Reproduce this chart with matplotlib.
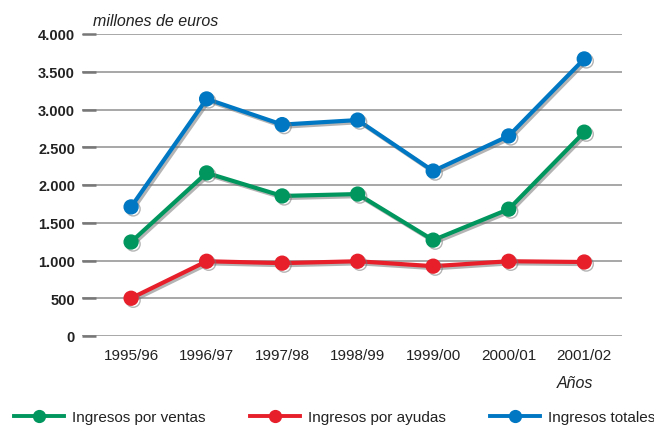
import matplotlib
matplotlib.use("Agg")
import matplotlib.pyplot as plt
import matplotlib.patheffects as pe
from matplotlib.lines import Line2D

plt.rcParams['font.family'] = ['Liberation Sans', 'DejaVu Sans']

years = ["1995/96", "1996/97", "1997/98", "1998/99", "1999/00", "2000/01", "2001/02"]
ventas = [1245, 2160, 1855, 1880, 1270, 1680, 2700]
ayudas = [500, 990, 965, 990, 925, 990, 980]
totales = [1710, 3140, 2800, 2860, 2185, 2650, 3670]
yticks = [0, 500, 1000, 1500, 2000, 2500, 3000, 3500, 4000]
ytick_labels = ["0", "500", "1.000", "1.500", "2.000", "2.500", "3.000", "3.500", "4.000"]

series = [
    ("Ingresos por ventas", ventas, "#00965e"),
    ("Ingresos por ayudas", ayudas, "#e61f2b"),
    ("Ingresos totales", totales, "#0077c2"),
]

fig = plt.figure(figsize=(6.54, 4.27), dpi=100)
ax = fig.add_axes([82 / 654, 1 - 337 / 427, 540 / 654, 302 / 427])

x = list(range(len(years)))
ax.set_xlim(-0.65, 6.5)
ax.set_ylim(0, 4000)

for v in yticks:
    ax.axhline(v, color="#a0a0a0", lw=1.3, zorder=0)

shadow = [pe.SimpleLineShadow(offset=(1.5, -1.5), shadow_color="#777777", alpha=0.55), pe.Normal()]
handles = []
for name, vals, col in series:
    ln, = ax.plot(x, vals, color=col, lw=3, marker="o", ms=10, label=name, zorder=3)
    ln.set_path_effects(shadow)
    handles.append(Line2D([0], [0], color=col, lw=2.8, marker="o", ms=8.5))

for s in ax.spines.values():
    s.set_visible(False)

ax.set_yticks(yticks)
ax.set_yticklabels(ytick_labels, fontsize=10.5, fontweight="bold", color="#222222")
ax.tick_params(axis="y", direction="in", length=10, width=1.8, color="#777777", pad=5)
ax.set_xticks(x)
ax.set_xticklabels(years, fontsize=11, color="#222222")
ax.tick_params(axis="x", length=0, pad=9)

fig.text(93 / 654, 1 - 21 / 427, "millones de euros", fontsize=11.5, style="italic",
         color="#222222", va="center", ha="left")
fig.text(593 / 654, 1 - 384 / 427, "Años", fontsize=11.5, style="italic",
         color="#222222", va="center", ha="right")

starts = [14, 250, 490]
for (name, vals, col), h, sx in zip(series, handles, starts):
    leg = fig.legend([h], [name], loc="center left", bbox_to_anchor=(sx / 654, 1 - 418 / 427),
                     frameon=False, fontsize=11, handlelength=3.3, handletextpad=0.5,
                     borderpad=0, borderaxespad=0)
    for t in leg.get_texts():
        t.set_color("#222222")

fig.savefig("out.png", dpi=100)
